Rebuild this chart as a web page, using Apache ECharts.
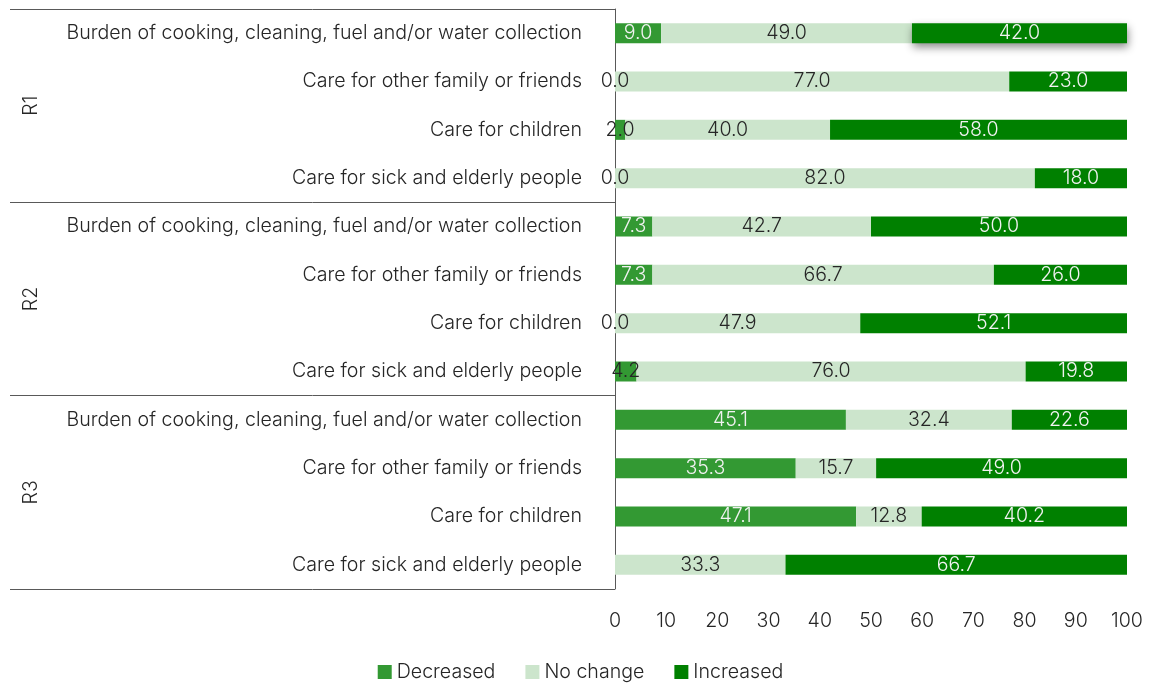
<!DOCTYPE html>
<html>
<head>
<meta charset="utf-8">
<script src="https://cdn.jsdelivr.net/npm/echarts@6/dist/echarts.min.js"></script>
<style>
  html, body { margin: 0; padding: 0; background: #ffffff; }
  #chart { width: 1161px; height: 685px; }
</style>
</head>
<body>
<div id="chart"></div>
<script>
// Rows, top to bottom
const categories = [
  'Burden of cooking, cleaning, fuel and/or water collection',
  'Care for other family or friends',
  'Care for children',
  'Care for sick and elderly people',
  'Burden of cooking, cleaning, fuel and/or water collection',
  'Care for other family or friends',
  'Care for children',
  'Care for sick and elderly people',
  'Burden of cooking, cleaning, fuel and/or water collection',
  'Care for other family or friends',
  'Care for children',
  'Care for sick and elderly people'
];
const groups = ['R1', 'R2', 'R3'];

const decreased = [9.0, 0.0, 2.0, 0.0, 7.3, 7.3, 0.0, 4.2, 45.1, 35.3, 47.1, null];
const noChange  = [49.0, 77.0, 40.0, 82.0, 42.7, 66.7, 47.9, 76.0, 32.4, 15.7, 12.8, 33.3];
const increased = [42.0, 23.0, 58.0, 18.0, 50.0, 26.0, 52.1, 19.8, 22.6, 49.0, 40.2, 66.7];

const xTicks = { min: 0, max: 100, interval: 10 };

const FONT = "'Inter', 'Liberation Sans', sans-serif";
const WEIGHT = 300;
const SIZE = 19.6;
const DARK = '#262626';
const LIGHT = '#f2f2f2';
const C_DEC = '#339933';
const C_NC = '#cce5cc';
const C_INC = '#008000';

// Decreased labels turn dark when the segment is too narrow to hold them
const decData = decreased.map(v => ({
  value: v,
  label: { color: v !== null && v < 5 ? DARK : LIGHT }
}));
// First Increased segment carries a soft drop shadow
const incData = increased.map((v, i) => i === 0
  ? { value: v, itemStyle: { shadowColor: 'rgba(0,0,0,0.45)', shadowBlur: 8, shadowOffsetY: 4, shadowOffsetX: 1 } }
  : v);

const labelBase = {
  show: true,
  position: 'inside',
  fontFamily: FONT,
  fontWeight: WEIGHT,
  fontSize: SIZE,
  formatter: p => (p.value === null || p.value === undefined) ? '' : Number(p.value).toFixed(1)
};
const textBase = { color: DARK, fontFamily: FONT, fontWeight: WEIGHT, fontSize: SIZE };

const chart = echarts.init(document.getElementById('chart'), null, { renderer: 'canvas' });
chart.setOption({
  backgroundColor: '#ffffff',
  animation: false,
  textStyle: { fontFamily: FONT },
  grid: { left: 615, right: 34, top: 9, bottom: 96, containLabel: false },
  legend: {
    bottom: -2,
    left: 'center',
    icon: 'rect',
    itemWidth: 14,
    itemHeight: 14,
    itemGap: 30,
    textStyle: textBase,
    data: ['Decreased', 'No change', 'Increased']
  },
  xAxis: {
    type: 'value',
    min: xTicks.min,
    max: xTicks.max,
    interval: xTicks.interval,
    axisLine: { show: false },
    axisTick: { show: false },
    splitLine: { show: false },
    axisLabel: Object.assign({ margin: 22 }, textBase)
  },
  yAxis: [
    {
      type: 'category',
      data: categories,
      inverse: true,
      axisLine: { show: true, lineStyle: { color: '#595959', width: 1 } },
      axisTick: { show: false },
      axisLabel: Object.assign({ margin: 33 }, textBase)
    },
    {
      // Group axis: ticks run across the label area as separators
      type: 'category',
      data: groups,
      inverse: true,
      position: 'left',
      offset: 605,
      axisLine: { show: false },
      axisTick: { show: true, inside: true, length: 605, lineStyle: { color: '#595959', width: 1 } },
      axisLabel: Object.assign({ inside: true, rotate: 90, margin: 11 }, textBase)
    }
  ],
  series: [
    {
      name: 'Decreased', type: 'bar', stack: 'total', barWidth: 20,
      itemStyle: { color: C_DEC },
      label: Object.assign({}, labelBase, { color: LIGHT }),
      data: decData
    },
    {
      name: 'No change', type: 'bar', stack: 'total', barWidth: 20,
      itemStyle: { color: C_NC },
      label: Object.assign({}, labelBase, { color: DARK }),
      data: noChange
    },
    {
      name: 'Increased', type: 'bar', stack: 'total', barWidth: 20,
      itemStyle: { color: C_INC },
      label: Object.assign({}, labelBase, { color: LIGHT }),
      data: incData
    }
  ]
});
</script>
</body>
</html>
